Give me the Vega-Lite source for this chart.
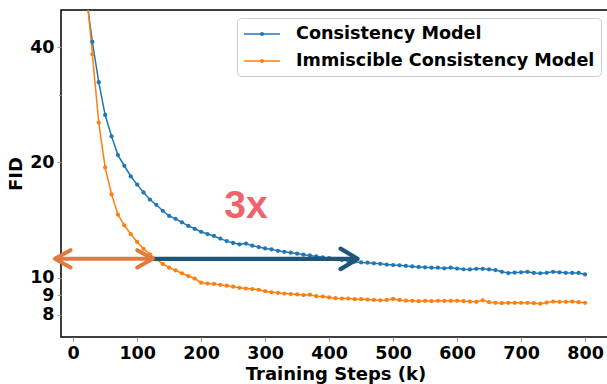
{
  "$schema": "https://vega.github.io/schema/vega-lite/v6.json",
  "width": 549,
  "height": 327,
  "autosize": {"type": "none"},
  "padding": {"left": 61, "top": 10, "right": 0, "bottom": 47},
  "background": "white",
  "config": {
    "view": {"stroke": "#000", "strokeWidth": 1.5},
    "axis": {
      "labelFont": "DejaVu Sans", "labelFontWeight": "bold", "labelFontSize": 17.5, "labelColor": "#000",
      "titleFont": "DejaVu Sans", "titleFontWeight": "bold", "titleFontSize": 18, "titleColor": "#000",
      "grid": false, "domain": false, "tickColor": "#999", "tickWidth": 1
    }
  },
  "datasets": {
    "series": [
      {"step": 20, "model": "Consistency Model", "fid": 55},
      {"step": 30, "model": "Consistency Model", "fid": 41.3},
      {"step": 40, "model": "Consistency Model", "fid": 32.4},
      {"step": 50, "model": "Consistency Model", "fid": 26.6},
      {"step": 60, "model": "Consistency Model", "fid": 23.4},
      {"step": 70, "model": "Consistency Model", "fid": 20.9},
      {"step": 80, "model": "Consistency Model", "fid": 19.6},
      {"step": 90, "model": "Consistency Model", "fid": 18.4},
      {"step": 100, "model": "Consistency Model", "fid": 17.5},
      {"step": 110, "model": "Consistency Model", "fid": 16.7},
      {"step": 120, "model": "Consistency Model", "fid": 16.0},
      {"step": 130, "model": "Consistency Model", "fid": 15.5},
      {"step": 140, "model": "Consistency Model", "fid": 14.95},
      {"step": 150, "model": "Consistency Model", "fid": 14.5},
      {"step": 160, "model": "Consistency Model", "fid": 14.25},
      {"step": 170, "model": "Consistency Model", "fid": 13.95},
      {"step": 180, "model": "Consistency Model", "fid": 13.65},
      {"step": 190, "model": "Consistency Model", "fid": 13.42},
      {"step": 200, "model": "Consistency Model", "fid": 13.18},
      {"step": 210, "model": "Consistency Model", "fid": 13.0},
      {"step": 220, "model": "Consistency Model", "fid": 12.85},
      {"step": 230, "model": "Consistency Model", "fid": 12.65},
      {"step": 240, "model": "Consistency Model", "fid": 12.46},
      {"step": 250, "model": "Consistency Model", "fid": 12.32},
      {"step": 260, "model": "Consistency Model", "fid": 12.22},
      {"step": 270, "model": "Consistency Model", "fid": 12.28},
      {"step": 280, "model": "Consistency Model", "fid": 12.12},
      {"step": 290, "model": "Consistency Model", "fid": 12.02},
      {"step": 300, "model": "Consistency Model", "fid": 11.92},
      {"step": 310, "model": "Consistency Model", "fid": 11.86},
      {"step": 320, "model": "Consistency Model", "fid": 11.75},
      {"step": 330, "model": "Consistency Model", "fid": 11.68},
      {"step": 340, "model": "Consistency Model", "fid": 11.62},
      {"step": 350, "model": "Consistency Model", "fid": 11.56},
      {"step": 360, "model": "Consistency Model", "fid": 11.48},
      {"step": 370, "model": "Consistency Model", "fid": 11.43},
      {"step": 380, "model": "Consistency Model", "fid": 11.36},
      {"step": 390, "model": "Consistency Model", "fid": 11.3},
      {"step": 400, "model": "Consistency Model", "fid": 11.24},
      {"step": 410, "model": "Consistency Model", "fid": 11.18},
      {"step": 420, "model": "Consistency Model", "fid": 11.12},
      {"step": 430, "model": "Consistency Model", "fid": 11.06},
      {"step": 440, "model": "Consistency Model", "fid": 11.01},
      {"step": 450, "model": "Consistency Model", "fid": 10.96},
      {"step": 460, "model": "Consistency Model", "fid": 10.94},
      {"step": 470, "model": "Consistency Model", "fid": 10.9},
      {"step": 480, "model": "Consistency Model", "fid": 10.87},
      {"step": 490, "model": "Consistency Model", "fid": 10.82},
      {"step": 500, "model": "Consistency Model", "fid": 10.79},
      {"step": 510, "model": "Consistency Model", "fid": 10.77},
      {"step": 520, "model": "Consistency Model", "fid": 10.73},
      {"step": 530, "model": "Consistency Model", "fid": 10.7},
      {"step": 540, "model": "Consistency Model", "fid": 10.67},
      {"step": 550, "model": "Consistency Model", "fid": 10.64},
      {"step": 560, "model": "Consistency Model", "fid": 10.62},
      {"step": 570, "model": "Consistency Model", "fid": 10.62},
      {"step": 580, "model": "Consistency Model", "fid": 10.58},
      {"step": 590, "model": "Consistency Model", "fid": 10.62},
      {"step": 600, "model": "Consistency Model", "fid": 10.56},
      {"step": 610, "model": "Consistency Model", "fid": 10.52},
      {"step": 620, "model": "Consistency Model", "fid": 10.51},
      {"step": 630, "model": "Consistency Model", "fid": 10.55},
      {"step": 640, "model": "Consistency Model", "fid": 10.55},
      {"step": 650, "model": "Consistency Model", "fid": 10.51},
      {"step": 660, "model": "Consistency Model", "fid": 10.47},
      {"step": 670, "model": "Consistency Model", "fid": 10.36},
      {"step": 680, "model": "Consistency Model", "fid": 10.28},
      {"step": 690, "model": "Consistency Model", "fid": 10.31},
      {"step": 700, "model": "Consistency Model", "fid": 10.33},
      {"step": 710, "model": "Consistency Model", "fid": 10.36},
      {"step": 720, "model": "Consistency Model", "fid": 10.29},
      {"step": 730, "model": "Consistency Model", "fid": 10.27},
      {"step": 740, "model": "Consistency Model", "fid": 10.3},
      {"step": 750, "model": "Consistency Model", "fid": 10.36},
      {"step": 760, "model": "Consistency Model", "fid": 10.33},
      {"step": 770, "model": "Consistency Model", "fid": 10.3},
      {"step": 780, "model": "Consistency Model", "fid": 10.29},
      {"step": 790, "model": "Consistency Model", "fid": 10.29},
      {"step": 800, "model": "Consistency Model", "fid": 10.2},
      {"step": 20, "model": "Immiscible Consistency Model", "fid": 58},
      {"step": 30, "model": "Immiscible Consistency Model", "fid": 38.3},
      {"step": 40, "model": "Immiscible Consistency Model", "fid": 25.4},
      {"step": 50, "model": "Immiscible Consistency Model", "fid": 19.4},
      {"step": 60, "model": "Immiscible Consistency Model", "fid": 16.5},
      {"step": 70, "model": "Immiscible Consistency Model", "fid": 14.6},
      {"step": 80, "model": "Immiscible Consistency Model", "fid": 13.7},
      {"step": 90, "model": "Immiscible Consistency Model", "fid": 13.0},
      {"step": 100, "model": "Immiscible Consistency Model", "fid": 12.4},
      {"step": 110, "model": "Immiscible Consistency Model", "fid": 11.9},
      {"step": 120, "model": "Immiscible Consistency Model", "fid": 11.5},
      {"step": 130, "model": "Immiscible Consistency Model", "fid": 11.17},
      {"step": 140, "model": "Immiscible Consistency Model", "fid": 10.86},
      {"step": 150, "model": "Immiscible Consistency Model", "fid": 10.62},
      {"step": 160, "model": "Immiscible Consistency Model", "fid": 10.45},
      {"step": 170, "model": "Immiscible Consistency Model", "fid": 10.27},
      {"step": 180, "model": "Immiscible Consistency Model", "fid": 10.1},
      {"step": 190, "model": "Immiscible Consistency Model", "fid": 9.95},
      {"step": 200, "model": "Immiscible Consistency Model", "fid": 9.7},
      {"step": 210, "model": "Immiscible Consistency Model", "fid": 9.65},
      {"step": 220, "model": "Immiscible Consistency Model", "fid": 9.63},
      {"step": 230, "model": "Immiscible Consistency Model", "fid": 9.58},
      {"step": 240, "model": "Immiscible Consistency Model", "fid": 9.53},
      {"step": 250, "model": "Immiscible Consistency Model", "fid": 9.47},
      {"step": 260, "model": "Immiscible Consistency Model", "fid": 9.41},
      {"step": 270, "model": "Immiscible Consistency Model", "fid": 9.37},
      {"step": 280, "model": "Immiscible Consistency Model", "fid": 9.34},
      {"step": 290, "model": "Immiscible Consistency Model", "fid": 9.3},
      {"step": 300, "model": "Immiscible Consistency Model", "fid": 9.22},
      {"step": 310, "model": "Immiscible Consistency Model", "fid": 9.16},
      {"step": 320, "model": "Immiscible Consistency Model", "fid": 9.13},
      {"step": 330, "model": "Immiscible Consistency Model", "fid": 9.09},
      {"step": 340, "model": "Immiscible Consistency Model", "fid": 9.06},
      {"step": 350, "model": "Immiscible Consistency Model", "fid": 9.04},
      {"step": 360, "model": "Immiscible Consistency Model", "fid": 9.01},
      {"step": 370, "model": "Immiscible Consistency Model", "fid": 9.03},
      {"step": 380, "model": "Immiscible Consistency Model", "fid": 8.95},
      {"step": 390, "model": "Immiscible Consistency Model", "fid": 8.93},
      {"step": 400, "model": "Immiscible Consistency Model", "fid": 8.88},
      {"step": 410, "model": "Immiscible Consistency Model", "fid": 8.84},
      {"step": 420, "model": "Immiscible Consistency Model", "fid": 8.82},
      {"step": 430, "model": "Immiscible Consistency Model", "fid": 8.82},
      {"step": 440, "model": "Immiscible Consistency Model", "fid": 8.79},
      {"step": 450, "model": "Immiscible Consistency Model", "fid": 8.79},
      {"step": 460, "model": "Immiscible Consistency Model", "fid": 8.77},
      {"step": 470, "model": "Immiscible Consistency Model", "fid": 8.75},
      {"step": 480, "model": "Immiscible Consistency Model", "fid": 8.73},
      {"step": 490, "model": "Immiscible Consistency Model", "fid": 8.75},
      {"step": 500, "model": "Immiscible Consistency Model", "fid": 8.8},
      {"step": 510, "model": "Immiscible Consistency Model", "fid": 8.75},
      {"step": 520, "model": "Immiscible Consistency Model", "fid": 8.71},
      {"step": 530, "model": "Immiscible Consistency Model", "fid": 8.7},
      {"step": 540, "model": "Immiscible Consistency Model", "fid": 8.68},
      {"step": 550, "model": "Immiscible Consistency Model", "fid": 8.7},
      {"step": 560, "model": "Immiscible Consistency Model", "fid": 8.68},
      {"step": 570, "model": "Immiscible Consistency Model", "fid": 8.7},
      {"step": 580, "model": "Immiscible Consistency Model", "fid": 8.7},
      {"step": 590, "model": "Immiscible Consistency Model", "fid": 8.7},
      {"step": 600, "model": "Immiscible Consistency Model", "fid": 8.7},
      {"step": 610, "model": "Immiscible Consistency Model", "fid": 8.68},
      {"step": 620, "model": "Immiscible Consistency Model", "fid": 8.66},
      {"step": 630, "model": "Immiscible Consistency Model", "fid": 8.65},
      {"step": 640, "model": "Immiscible Consistency Model", "fid": 8.73},
      {"step": 650, "model": "Immiscible Consistency Model", "fid": 8.63},
      {"step": 660, "model": "Immiscible Consistency Model", "fid": 8.6},
      {"step": 670, "model": "Immiscible Consistency Model", "fid": 8.58},
      {"step": 680, "model": "Immiscible Consistency Model", "fid": 8.6},
      {"step": 690, "model": "Immiscible Consistency Model", "fid": 8.6},
      {"step": 700, "model": "Immiscible Consistency Model", "fid": 8.6},
      {"step": 710, "model": "Immiscible Consistency Model", "fid": 8.6},
      {"step": 720, "model": "Immiscible Consistency Model", "fid": 8.58},
      {"step": 730, "model": "Immiscible Consistency Model", "fid": 8.55},
      {"step": 740, "model": "Immiscible Consistency Model", "fid": 8.61},
      {"step": 750, "model": "Immiscible Consistency Model", "fid": 8.66},
      {"step": 760, "model": "Immiscible Consistency Model", "fid": 8.65},
      {"step": 770, "model": "Immiscible Consistency Model", "fid": 8.65},
      {"step": 780, "model": "Immiscible Consistency Model", "fid": 8.66},
      {"step": 790, "model": "Immiscible Consistency Model", "fid": 8.63},
      {"step": 800, "model": "Immiscible Consistency Model", "fid": 8.6}
    ],
    "blueArrow": [{"step": 124, "fid": 11.2}, {"step": 444, "fid": 11.2}],
    "blueHead": [{"step": 444.5, "fid": 11.2}],
    "orangeArrow": [{"step": -28.5, "fid": 11.2}, {"step": 124.5, "fid": 11.2}],
    "orangeLeft": [{"step": -28.5, "fid": 11.2}],
    "orangeRight": [{"step": 124.5, "fid": 11.2}],
    "note": [{"step": 270, "fid": 14.3, "label": "3x"}]
  },
  "layer": [
    {
      "data": {"name": "series"},
      "mark": {"type": "line", "strokeWidth": 1.5, "clip": true},
      "encoding": {
        "x": {
          "field": "step", "type": "quantitative",
          "scale": {"domain": [-19, 839], "nice": false, "zero": false},
          "axis": {"values": [0, 100, 200, 300, 400, 500, 600, 700, 800], "tickSize": 4, "labelPadding": 3, "title": "Training Steps (k)", "titlePadding": 4}
        },
        "y": {
          "field": "fid", "type": "quantitative",
          "scale": {"type": "log", "domain": [7, 50], "nice": false},
          "axis": {
            "values": [8, 9, 10, 20, 30, 40], "format": "d",
            "labelExpr": "datum.value == 30 ? '' : datum.label",
            "tickSize": {"condition": {"test": "datum.value == 30", "value": 2.5}, "value": 4},
            "labelPadding": 3, "title": "FID", "titlePadding": 4
          }
        },
        "color": {
          "field": "model", "type": "nominal",
          "scale": {"domain": ["Consistency Model", "Immiscible Consistency Model"], "range": ["#1f77b4", "#ff7f0e"]},
          "legend": {
            "title": null, "orient": "none", "legendX": 176, "legendY": 8,
            "symbolType": "M-1,0L3,0M1.15,0A0.15,0.15,0,1,1,0.85,0A0.15,0.15,0,1,1,1.15,0",
            "symbolSize": 324, "symbolStrokeWidth": 1.5,
            "labelFont": "DejaVu Sans", "labelFontWeight": "bold", "labelFontSize": 17.6, "labelColor": "#000",
            "labelOffset": 33, "rowPadding": 8, "padding": 6, "labelLimit": 400,
            "strokeColor": "#cccccc", "fillColor": "rgba(255,255,255,0.85)", "cornerRadius": 4
          }
        }
      }
    },
    {
      "data": {"name": "series"},
      "mark": {"type": "point", "filled": true, "size": 18, "opacity": 1, "clip": true},
      "encoding": {
        "x": {"field": "step", "type": "quantitative"},
        "y": {"field": "fid", "type": "quantitative"},
        "fill": {
          "field": "model", "type": "nominal",
          "scale": {"domain": ["Consistency Model", "Immiscible Consistency Model"], "range": ["#1f77b4", "#ff7f0e"]},
          "legend": null
        }
      }
    },
    {
      "data": {"name": "blueArrow"},
      "mark": {"type": "line", "color": "#1f5677", "strokeWidth": 4.2, "clip": false},
      "encoding": {"x": {"field": "step", "type": "quantitative"}, "y": {"field": "fid", "type": "quantitative"}}
    },
    {
      "data": {"name": "blueHead"},
      "mark": {"type": "point", "shape": "M-1.66,-1L0,0L-1.66,1", "filled": false, "stroke": "#1f5677", "strokeWidth": 4.2, "size": 420, "opacity": 1, "strokeCap": "round", "strokeJoin": "round", "clip": false},
      "encoding": {"x": {"field": "step", "type": "quantitative"}, "y": {"field": "fid", "type": "quantitative"}}
    },
    {
      "data": {"name": "orangeArrow"},
      "mark": {"type": "line", "color": "#e07a3f", "strokeWidth": 4, "clip": false},
      "encoding": {"x": {"field": "step", "type": "quantitative"}, "y": {"field": "fid", "type": "quantitative"}}
    },
    {
      "data": {"name": "orangeLeft"},
      "mark": {"type": "point", "shape": "M1.8,-1L0,0L1.8,1", "filled": false, "stroke": "#e07a3f", "strokeWidth": 4, "size": 300, "opacity": 1, "strokeCap": "round", "strokeJoin": "round", "clip": false},
      "encoding": {"x": {"field": "step", "type": "quantitative"}, "y": {"field": "fid", "type": "quantitative"}}
    },
    {
      "data": {"name": "orangeRight"},
      "mark": {"type": "point", "shape": "M-1.8,-1L0,0L-1.8,1", "filled": false, "stroke": "#e07a3f", "strokeWidth": 4, "size": 300, "opacity": 1, "strokeCap": "round", "strokeJoin": "round", "clip": false},
      "encoding": {"x": {"field": "step", "type": "quantitative"}, "y": {"field": "fid", "type": "quantitative"}}
    },
    {
      "data": {"name": "note"},
      "mark": {"type": "text", "font": "Liberation Sans", "fontWeight": "bold", "fontSize": 39, "color": "#f0626c", "align": "center", "baseline": "alphabetic"},
      "encoding": {"x": {"field": "step", "type": "quantitative"}, "y": {"field": "fid", "type": "quantitative"}, "text": {"field": "label"}}
    }
  ]
}
